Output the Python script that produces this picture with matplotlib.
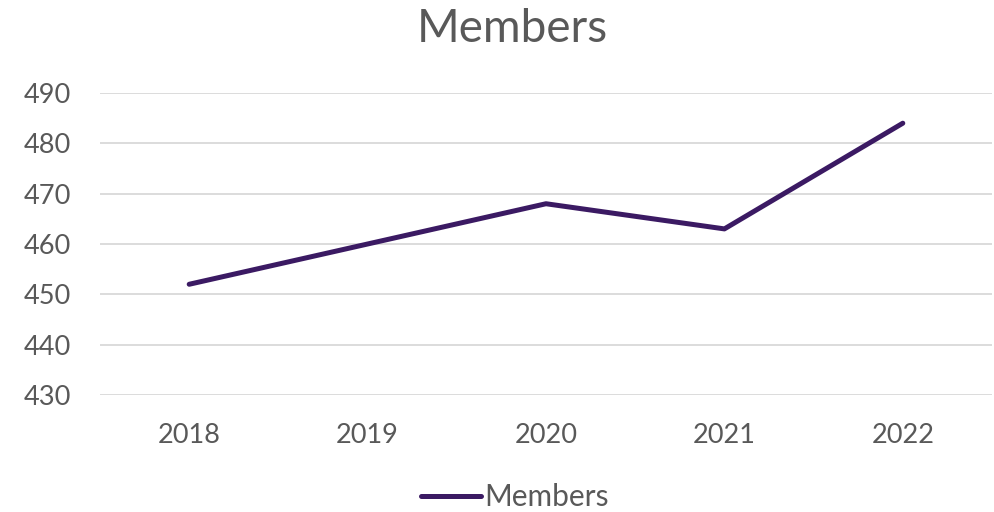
import matplotlib
matplotlib.use("Agg")
import matplotlib.pyplot as plt
from matplotlib.lines import Line2D

years = ["2018", "2019", "2020", "2021", "2022"]
members = [452, 460, 468, 463, 484]
yticks = [430, 440, 450, 460, 470, 480, 490]

plt.rcParams['font.family'] = ['Lato', 'DejaVu Sans']
text_color = "#595959"
line_color = "#3B1A63"

fig = plt.figure(figsize=(9.95, 5.12), dpi=100)
ax = fig.add_axes([100/995, 1-395/512, 892/995, (395-93)/512])

x = list(range(len(years)))
ax.plot(x, members, color=line_color, lw=3.6, solid_capstyle='round', solid_joinstyle='round', zorder=3)

ax.set_xlim(-0.5, len(years)-0.5)
ax.set_ylim(430, 490)
ax.set_yticks(yticks)
ax.set_xticks(x)
ax.set_xticklabels(years)
ax.grid(axis='y', color="#D9D9D9", lw=1.3)
ax.set_axisbelow(True)
for s in ax.spines.values():
    s.set_visible(False)
ax.tick_params(axis='both', length=0, labelsize=19.5, colors=text_color, pad=21)
ax.tick_params(axis='x', pad=20)

fig.text(512/995, 1-29/512, "Members", ha='center', va='center', fontsize=33, color=text_color)

handle = Line2D([0], [0], color=line_color, lw=3.6, solid_capstyle='round')
leg = fig.legend([handle], ["Members"], loc='center', bbox_to_anchor=(515/995, 1-497/512),
                 frameon=False, fontsize=21.5, handlelength=2.0, handletextpad=0.1)
for t in leg.get_texts():
    t.set_color(text_color)

fig.savefig("out.png", dpi=100)
